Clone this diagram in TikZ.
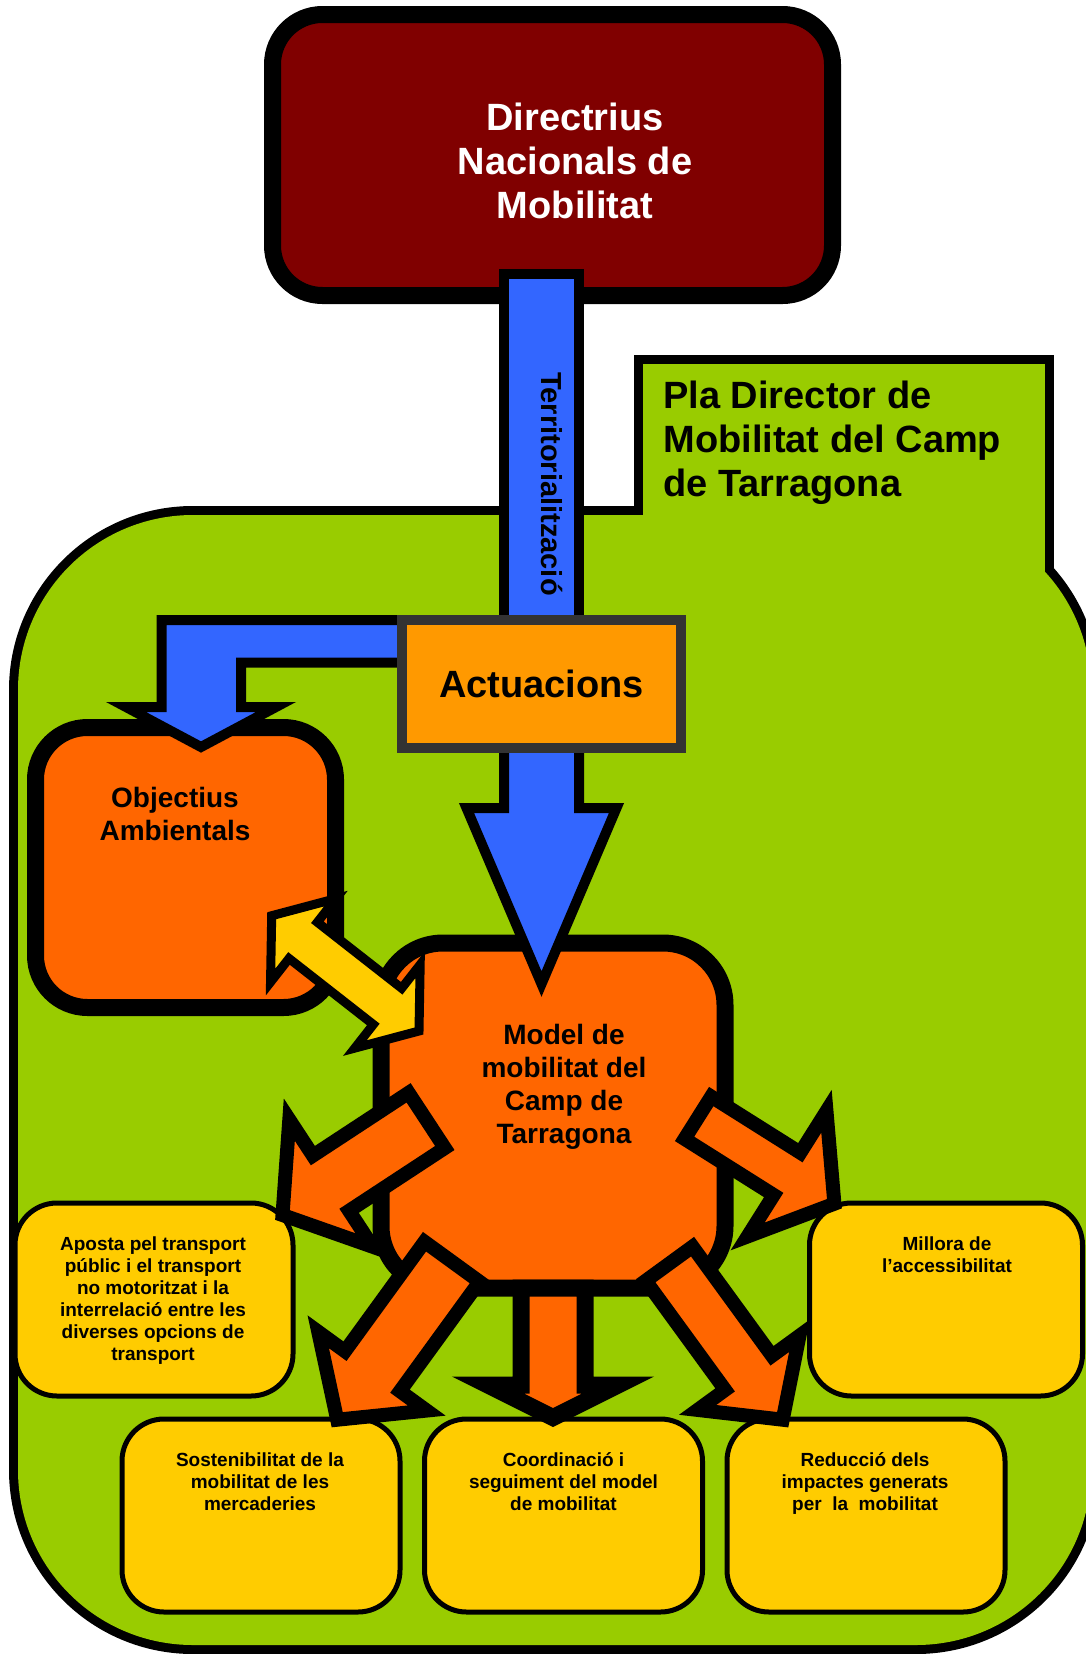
\documentclass[tikz,border=0pt]{standalone}
\usepackage{fontspec}
\setmainfont{Liberation Sans}
\usetikzlibrary{calc}

\definecolor{granat}{HTML}{800000}
\definecolor{verd}{HTML}{99CC00}
\definecolor{blau}{HTML}{3366FF}
\definecolor{taronja}{HTML}{FF6600}
\definecolor{taronjaclar}{HTML}{FF9900}
\definecolor{groc}{HTML}{FFCC00}
\definecolor{gris}{HTML}{333333}

% block arrow: style, from, to, shaft half width, head half width, head length
\newcommand{\blockarrow}[6]{%
  \path (#2) coordinate (ba-s) (#3) coordinate (ba-t);
  \coordinate (ba-h) at ($(ba-t)!#6!(ba-s)$);
  \draw[#1] ($(ba-s)!#4!90:(ba-t)$) -- ($(ba-h)!#4!-90:(ba-s)$)
    -- ($(ba-h)!#5!-90:(ba-s)$) -- (ba-t) -- ($(ba-h)!#5!90:(ba-s)$)
    -- ($(ba-h)!#4!90:(ba-s)$) -- ($(ba-s)!#4!-90:(ba-t)$) -- cycle;
}
% double block arrow: style, end a, end b, shaft half width, head half width, head length
\newcommand{\dblarrow}[6]{%
  \path (#2) coordinate (da-a) (#3) coordinate (da-b);
  \coordinate (da-ha) at ($(da-a)!#6!(da-b)$);
  \coordinate (da-hb) at ($(da-b)!#6!(da-a)$);
  \draw[#1] (da-a) -- ($(da-ha)!#5!90:(da-b)$) -- ($(da-ha)!#4!90:(da-b)$)
    -- ($(da-hb)!#4!-90:(da-a)$) -- ($(da-hb)!#5!-90:(da-a)$) -- (da-b)
    -- ($(da-hb)!#5!90:(da-a)$) -- ($(da-hb)!#4!90:(da-a)$)
    -- ($(da-ha)!#4!-90:(da-b)$) -- ($(da-ha)!#5!-90:(da-b)$) -- cycle;
}

\begin{document}
\begin{tikzpicture}[x=0.5pt, y=-0.5pt]
\tikzset{
  gran/.style={font=\fontsize{19pt}{22pt}\selectfont\bfseries},
  mitja/.style={font=\fontsize{14pt}{16.5pt}\selectfont\bfseries},
  petit/.style={font=\fontsize{9.5pt}{11pt}\selectfont\bfseries},
  etiqueta/.style={inner sep=0pt, align=center},
  caixa/.style={draw=black, line width=8.5pt, rounded corners=25pt, outer sep=0pt, inner sep=0pt},
  caixagroga/.style={draw=black, line width=2.5pt, fill=groc, rounded corners=21pt, outer sep=0pt, inner sep=0pt, minimum width=139pt, minimum height=96.5pt},
  fletxablava/.style={draw=black, fill=blau, line width=5pt, line join=miter},
  fletxataronja/.style={draw=black, fill=taronja, line width=7pt, line join=miter},
  fletxagroga/.style={draw=black, fill=groc, line width=4.5pt, line join=miter}
}
\useasboundingbox (0,0) rectangle (1086,1654);
\fill[white] (0,0) rectangle (1086,1654);
\clip (0,0) rectangle (1086,1654);

% Pla Director
\draw[line width=9pt, rounded corners=87.5pt] (18,515) rectangle (1091,1645);
\draw[line width=9pt] (643,364) rectangle (1045,700);
\fill[verd, rounded corners=87.5pt] (18,515) rectangle (1091,1645);
\fill[verd] (643,364) rectangle (1045,700);
\node[gran, etiqueta, align=left, anchor=north west] (pla) at (663,381) {Pla Director de\\Mobilitat del Camp\\de Tarragona};

% Directrius
\node[caixa, fill=granat, minimum width=280pt, minimum height=140.5pt] (dnm) at (552.5,155) {};
\node[gran, etiqueta, text=white, anchor=north] (dnmtext) at ($(dnm.north)+(22.5,88.5)$) {Directrius\\Nacionals de\\Mobilitat};

\coordinate (actc) at (541.5,684);
\draw[fletxablava] ($(actc)+(-37.5,-410)$) rectangle ($(actc)+(37.5,-54)$);
\node[mitja, rotate=-90, font=\fontsize{14.5pt}{16pt}\selectfont\bfseries] (terr) at ($(actc)+(10.5,-200)$) {Territorialització};

% objectius i model
\node[caixa, fill=taronja, rounded corners=26pt, minimum width=150pt, minimum height=140pt] (obj) at (185.5,867.5) {};
\node[mitja, etiqueta, anchor=north] (objtext) at ($(obj.north)+(-10.5,59.5)$) {Objectius\\Ambientals};
\node[caixa, fill=taronja, rounded corners=31pt, minimum width=172pt, minimum height=172.5pt] (model) at (553,1115.5) {};
\node[mitja, etiqueta, anchor=north] (modeltext) at ($(model.north)+(11,81)$) {Model de\\mobilitat del\\Camp de\\Tarragona};

\blockarrow{fletxablava}{actc}{$(actc)+(0,300)$}{18.75pt}{37.5pt}{88pt}
\draw[fletxablava] ($(actc)+(-110,-64)$) -| ($(obj.north)+(-24,-20.5)$) -- ++(-35.5,0) -- ++(75,40)
  -- ++(75,-40) -- ++(-35,0) |- ($(actc)+(-110,-21.5)$) -- cycle;

\node[draw=gris, fill=taronjaclar, line width=5pt, outer sep=0pt, minimum width=139.5pt, minimum height=64pt, gran] (act) at (actc) {Actuacions};

\dblarrow{fletxagroga}{$(obj.south east)+(-63.8,-91.8)$}{$(model.north west)+(38,88)$}{11.5pt}{26.5pt}{20pt}

% caixes grogues
\node[caixagroga] (aposta) at (154,1299.5) {};
\node[caixagroga, minimum width=136.5pt] (millora) at (946,1299.5) {};
\node[caixagroga] (sost) at (261,1515.5) {};
\node[caixagroga] (coord) at (563.5,1515.5) {};
\node[caixagroga] (reduc) at (866,1515.5) {};
\node[petit, etiqueta, anchor=north] at ($(aposta.north)+(-1,33)$) {Aposta pel transport\\públic i el transport\\no motoritzat i la\\interrelació entre les\\diverses opcions de\\transport};
\node[petit, etiqueta, anchor=north] at ($(millora.north)+(1,33)$) {Millora de\\l’accessibilitat};
\node[petit, etiqueta, anchor=north] at ($(sost.north)+(-1,33)$) {Sostenibilitat de la\\mobilitat de les\\mercaderies};
\node[petit, etiqueta, anchor=north] at ($(coord.north)+(0,33)$) {Coordinació i\\seguiment del model\\de mobilitat};
\node[petit, etiqueta, anchor=north] at ($(reduc.north)+(-1,33)$) {Reducció dels\\impactes generats\\per\ \ la\ \ mobilitat};

% fletxes del model
\blockarrow{fletxataronja}{$(model.center)+(-126.3,4.9)$}{$(aposta.north east)+(-10.5,12)$}{16.5pt}{38pt}{29pt}
\blockarrow{fletxataronja}{$(model.center)+(-101,146.2)$}{$(sost.north)+(76.2,0.7)$}{17pt}{33.5pt}{30pt}
\blockarrow{fletxataronja, line width=8.5pt}{model.south}{$(model.south)+(0,129.5)$}{16pt}{32.5pt}{16.25pt}
\blockarrow{fletxataronja}{$(model.center)+(116.1,148.2)$}{$(reduc.north)+(-83.3,0.7)$}{14.5pt}{31.5pt}{29pt}
\blockarrow{fletxataronja}{$(model.center)+(144.9,2.2)$}{$(millora.north west)+(24.9,0.7)$}{12.5pt}{37pt}{28pt}
\end{tikzpicture}
\end{document}
